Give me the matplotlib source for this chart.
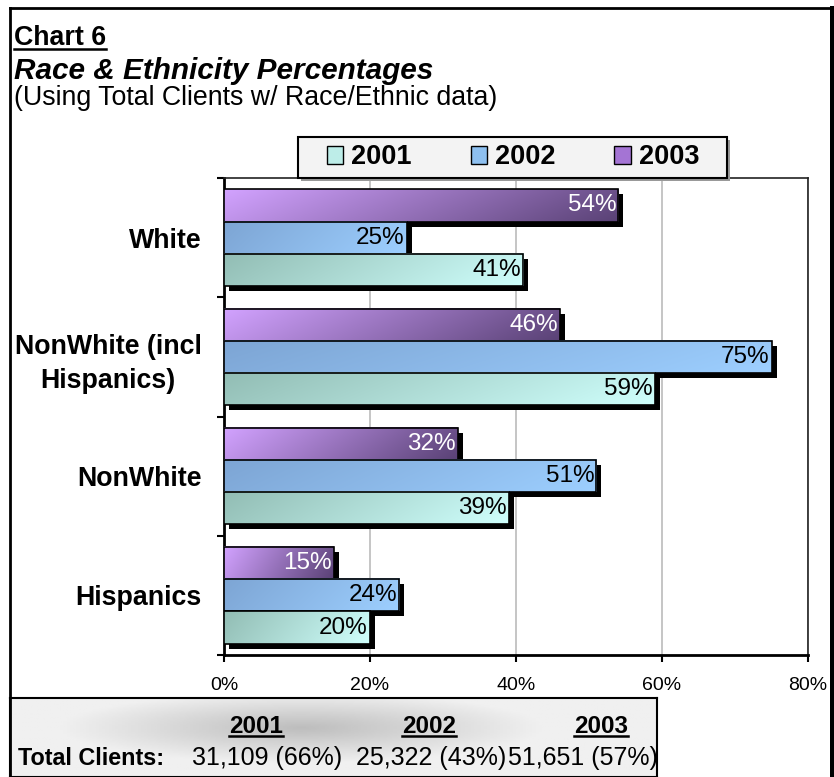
import numpy as np
import matplotlib.pyplot as plt
from matplotlib.patches import Rectangle, Patch
from matplotlib.colors import to_rgb
from matplotlib.transforms import offset_copy
from matplotlib.lines import Line2D

plt.rcParams['font.family'] = ['Liberation Sans', 'DejaVu Sans']

# chart data
categories = ['White', 'NonWhite (incl\nHispanics)', 'NonWhite', 'Hispanics']
years = ['2001', '2002', '2003']
pct_2001 = [41, 59, 39, 20]
pct_2002 = [25, 75, 51, 24]
pct_2003 = [54, 46, 32, 15]
total_clients = ['31,109 (66%)', '25,322 (43%)', '51,651 (57%)']

W, H = 834, 777
fig = plt.figure(figsize=(W / 100, H / 100), dpi=100)


def fx(px):
    return px / W


def fy(py):
    return 1 - py / H


ax = fig.add_axes([fx(224), fy(655), fx(808) - fx(224), fy(178) - fy(655)])

# (left colour, right colour, label colour) per year
styles = {
    '2001': ('#92BdB4', '#CFFFFC', 'black'),
    '2002': ('#7DA5D4', '#9DCFFF', 'black'),
    '2003': ('#D2A2FF', '#5A4276', 'white'),
}
legend_colors = {'2001': '#BDEDE8', '2002': '#8EC0F0', '2003': '#A474D4'}


def gradient_bar(x1, yc, h, c_left, c_right, shadow_tr):
    y0, y1 = yc - h / 2, yc + h / 2
    ax.add_patch(Rectangle((0, y0), x1, h, facecolor='black', edgecolor='none',
                           transform=shadow_tr, zorder=3))
    xs = np.linspace(0, 1, 120)
    ys = np.linspace(0, 1, 16)
    gx, gy = np.meshgrid(xs, ys)
    t = np.clip(0.85 * gx + 0.15 * gy, 0, 1)[..., None]
    a, b = np.array(to_rgb(c_left)), np.array(to_rgb(c_right))
    img = a * (1 - t) + b * t
    ax.imshow(img, extent=(0, x1, y0, y1), aspect='auto', origin='upper',
              interpolation='bilinear', zorder=3)
    ax.add_patch(Rectangle((0, y0), x1, h, facecolor='none', edgecolor='black',
                           linewidth=1.2, zorder=3))


shadow_tr = offset_copy(ax.transData, fig=fig, x=5, y=-5, units='dots')
bar_h = 0.27
series = {'2001': pct_2001, '2002': pct_2002, '2003': pct_2003}
offsets = {'2003': bar_h, '2002': 0.0, '2001': -bar_h}
ypos = [len(categories) - 1 - i for i in range(len(categories))]

for i, yc in enumerate(ypos):
    for yr in ['2003', '2002', '2001']:
        v = series[yr][i]
        c_left, c_right, tc = styles[yr]
        gradient_bar(v, yc + offsets[yr], bar_h, c_left, c_right, shadow_tr)
        ax.annotate(f'{v}%', (v, yc + offsets[yr]), xytext=(-2, 0),
                    textcoords='offset pixels', ha='right', va='center',
                    fontsize=17.5, color=tc, zorder=6)

ax.set_xlim(0, 80)
ax.set_ylim(-0.5, len(categories) - 0.5)
ax.set_xticks([0, 20, 40, 60, 80])
ax.set_xticklabels([f'{v}%' for v in [0, 20, 40, 60, 80]], fontsize=14)
ax.tick_params(axis='x', length=5, width=1.5, pad=11)
ax.set_yticks(np.arange(-0.5, len(categories)))
ax.set_yticklabels([])
ax.tick_params(axis='y', which='major', length=5, width=1.5)
ax.set_yticks(ypos, minor=True)
ax.set_yticklabels(categories, minor=True, fontsize=19.3, fontweight='bold')
ax.tick_params(axis='y', which='minor', length=0, pad=16)
for lbl in ax.get_yticklabels(minor=True):
    lbl.set_multialignment('center')
    lbl.set_linespacing(1.4)

ax.set_axisbelow(True)
ax.grid(axis='x', color='#BBBBBB', linewidth=1.2)
for s in ['left', 'bottom']:
    ax.spines[s].set_linewidth(2)
    ax.spines[s].set_color('black')
for s in ['top', 'right']:
    ax.spines[s].set_linewidth(1.2)
    ax.spines[s].set_color('#222222')

# legend box with its shadow, then the entries on top
for dx, col, ec in [(3, '#999999', 'none'), (0, '#F3F3F3', 'black')]:
    fig.add_artist(Rectangle((fx(298 + dx), fy(178 + dx)), fx(727) - fx(298),
                             fy(137) - fy(178), facecolor=col, edgecolor=ec,
                             linewidth=1.5, transform=fig.transFigure))
handles = [Patch(facecolor=legend_colors[y], edgecolor='black') for y in years]
fig.legend(handles, years, loc='center', ncol=3, mode='expand',
           bbox_to_anchor=(fx(320), fy(178), fx(706) - fx(320), fy(137) - fy(178)),
           prop=dict(weight='bold', size=19.5), handlelength=0.6, handleheight=0.6,
           handletextpad=0.3, borderpad=0.25, borderaxespad=0, frameon=False)

# titles
t_chart = fig.text(fx(14), fy(45), 'Chart 6', fontsize=19.3, fontweight='bold',
                   va='baseline')
fig.text(fx(14), fy(79), 'Race & Ethnicity Percentages', fontsize=21.4,
         fontweight='bold', fontstyle='italic', va='baseline')
fig.text(fx(14), fy(105), '(Using Total Clients w/ Race/Ethnic data)',
         fontsize=19.3, va='baseline')

# totals box
tab = fig.add_axes([fx(10), 0, fx(657) - fx(10), fy(698)])
gx, gy = np.meshgrid(np.linspace(-1, 1, 200), np.linspace(-1, 1, 60))
r = np.sqrt(((gx + 0.1) / 0.75) ** 2 + ((gy + 0.25) / 0.9) ** 2)
shade = 0.74 + 0.2 * np.clip(r, 0, 1)
tab.imshow(shade, extent=(0, 1, 0, 1), aspect='auto', cmap='gray', vmin=0, vmax=1)
tab.set_xticks([])
tab.set_yticks([])
for s in tab.spines.values():
    s.set_linewidth(1.5)
    s.set_color('black')

year_x = [256, 429, 601]
val_x = [267, 431, 583]
headers = []
for x, yr in zip(year_x, years):
    headers.append(fig.text(fx(x), fy(733), yr, fontsize=17.5, fontweight='bold',
                            ha='center', va='baseline'))
fig.text(fx(18), fy(765), 'Total Clients:', fontsize=16.8, fontweight='bold',
         va='baseline')
for x, v in zip(val_x, total_clients):
    fig.text(fx(x), fy(765), v, fontsize=18, ha='center', va='baseline')

# outer frame
fig.add_artist(Line2D([fx(10), fx(10)], [0, fy(8)], color='black', linewidth=2,
                      transform=fig.transFigure))
fig.add_artist(Line2D([fx(10), fx(832)], [fy(8), fy(8)], color='black',
                      linewidth=2, transform=fig.transFigure))
fig.add_artist(Line2D([fx(831.5), fx(831.5)], [0, fy(8)], color='black',
                      linewidth=3.6, transform=fig.transFigure))

# underlines
fig.canvas.draw()
renderer = fig.canvas.get_renderer()
for t in [t_chart] + headers:
    bb = t.get_window_extent(renderer).transformed(fig.transFigure.inverted())
    fig.add_artist(Line2D([bb.x0, bb.x1], [bb.y0 + 0.002, bb.y0 + 0.002],
                          color='black', linewidth=1.8, transform=fig.transFigure))

fig.savefig('out.png', dpi=100)
